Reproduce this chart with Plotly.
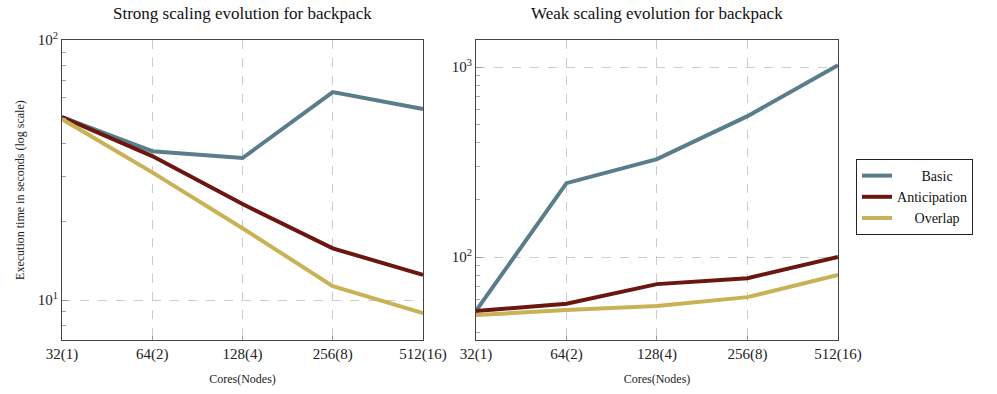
import plotly.graph_objects as go
from plotly.subplots import make_subplots

cores = ["32(1)", "64(2)", "128(4)", "256(8)", "512(16)"]

# strong scaling (seconds)
strong_basic = [50.6, 37.4, 35.2, 63.1, 54.3]
strong_anticipation = [50.6, 35.8, 23.4, 15.8, 12.5]
strong_overlap = [49.7, 31.0, 18.9, 11.3, 8.9]

# weak scaling (seconds)
weak_basic = [52, 245, 328, 552, 1025]
weak_anticipation = [52, 56.7, 72, 77.4, 100]
weak_overlap = [49.5, 52.6, 55.2, 61.5, 80.4]

series = ["Basic", "Anticipation", "Overlap"]
# legend labels padded so they sit centred like in the original
legend_labels = {"Basic": "&nbsp;" * 7 + "Basic",
                 "Anticipation": "Anticipation",
                 "Overlap": "&nbsp;" * 5 + "Overlap"}
colors = {"Basic": "#5a7d8b", "Anticipation": "#6b1710", "Overlap": "#c9b156"}
FONT = "Liberation Serif"

fig = make_subplots(rows=1, cols=2)

for name, ys in zip(series, [strong_basic, strong_anticipation, strong_overlap]):
    fig.add_trace(go.Scatter(x=cores, y=ys, mode="lines", name=legend_labels[name],
                             line=dict(color=colors[name], width=4)), row=1, col=1)
for name, ys in zip(series, [weak_basic, weak_anticipation, weak_overlap]):
    fig.add_trace(go.Scatter(x=cores, y=ys, mode="lines", name=legend_labels[name], showlegend=False,
                             line=dict(color=colors[name], width=4)), row=1, col=2)

xcommon = dict(type="category", range=[0, 4], showgrid=True, gridcolor="#cccccc", griddash="dash",
               gridwidth=1, showline=True, linecolor="#444444", linewidth=1, mirror=True,
               ticks="inside", ticklen=4, tickcolor="#999999", zeroline=False, automargin=False,
               tickfont=dict(family=FONT, size=15, color="#222222"),
               title=dict(text="Cores(Nodes)", font=dict(family=FONT, size=12, color="#222222"), standoff=12))
ycommon = dict(type="log", showgrid=True, gridcolor="#cccccc", griddash="dash", gridwidth=1,
               showline=True, linecolor="#444444", linewidth=1, mirror=True, automargin=False,
               ticks="inside", ticklen=6, tickcolor="#999999", zeroline=False,
               tickfont=dict(family=FONT, size=15, color="#222222"))

fig.update_xaxes(domain=[0.0622, 0.4243], **xcommon, row=1, col=1)
fig.update_xaxes(domain=[0.4774, 0.8405], **xcommon, row=1, col=2)

fig.update_yaxes(domain=[0.137, 0.898], range=[0.846, 2.0], tickvals=[10, 100],
                 ticktext=["10<sup>1</sup>", "10<sup>2</sup>"],
                 minor=dict(tickvals=[7, 8, 9, 20, 30, 40, 50, 60, 70, 80, 90], ticks="inside",
                            ticklen=4, tickcolor="#aaaaaa", showgrid=False),
                 title=dict(text="Execution time in seconds (log scale)",
                            font=dict(family=FONT, size=12, color="#222222"), standoff=10),
                 **ycommon, row=1, col=1)
fig.update_yaxes(domain=[0.137, 0.898], range=[1.563, 3.142], tickvals=[100, 1000],
                 ticktext=["10<sup>2</sup>", "10<sup>3</sup>"],
                 minor=dict(tickvals=[40, 50, 60, 70, 80, 90, 200, 300, 400, 500, 600, 700, 800, 900],
                            ticks="inside", ticklen=4, tickcolor="#aaaaaa", showgrid=False),
                 **ycommon, row=1, col=2)

fig.add_annotation(text="Strong scaling evolution for backpack", xref="paper", yref="paper",
                   x=0.2433, y=1 - 14 / 394, xanchor="center", yanchor="middle", showarrow=False,
                   font=dict(family=FONT, size=17, color="#111111"))
fig.add_annotation(text="Weak scaling evolution for backpack", xref="paper", yref="paper",
                   x=0.659, y=1 - 14 / 394, xanchor="center", yanchor="middle", showarrow=False,
                   font=dict(family=FONT, size=17, color="#111111"))

fig.update_layout(
    width=997, height=394,
    margin=dict(l=0, r=0, t=0, b=0),
    plot_bgcolor="white", paper_bgcolor="white",
    font=dict(family=FONT),
    legend=dict(x=0.8586, y=0.5, xanchor="left", yanchor="middle",
                bordercolor="#222222", borderwidth=1, bgcolor="white",
                font=dict(family=FONT, size=14, color="#111111"),
                tracegroupgap=0, itemwidth=30),
)

fig.write_html("out.html", config={"displayModeBar": False},
               post_script="document.body.style.margin='0';")
